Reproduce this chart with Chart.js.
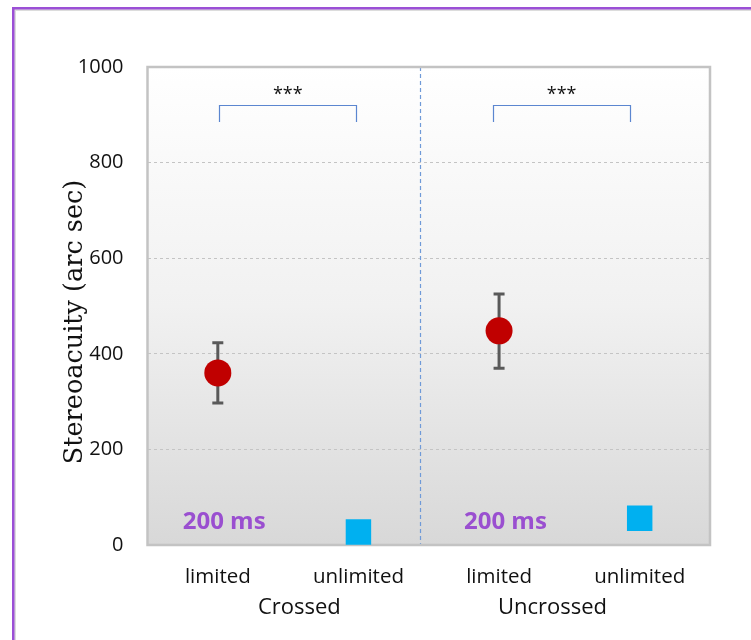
<!DOCTYPE html>
<html>
<head>
<meta charset="utf-8">
<script src="https://cdn.jsdelivr.net/npm/chart.js@4"></script>
<style>
  html, body { margin: 0; padding: 0; background: #ffffff; overflow: hidden; }
  #wrap { position: relative; width: 751px; height: 640px; }
</style>
</head>
<body>
<div id="wrap"><canvas id="c" width="751" height="640"></canvas></div>
<script>
// Conditions along the x axis
const categories = ['limited', 'unlimited', 'limited', 'unlimited'];
const groups = ['Crossed', 'Uncrossed'];

// Presentation-time limited viewing: mean with error range (arc sec)
const limitedMean = [360, 448];
const limitedUpper = [423, 525];
const limitedLower = [297, 370];

// Unlimited viewing: mean (arc sec)
const unlimitedMean = [27, 56];

// Value axis ticks
const yTicks = [0, 200, 400, 600, 800, 1000];

// Annotations
const sigLabels = ['***', '***'];
const durationLabels = ['200 ms', '200 ms'];

const SANS = '"Open Sans", "Liberation Sans", sans-serif';
const SERIF = '"DejaVu Serif", "Liberation Serif", serif';

const limitedX = [1, 3];
const unlimitedX = [2, 4];

const frame = {
  id: 'frame',
  beforeDraw(chart) {
    const { ctx, chartArea: a } = chart;
    ctx.save();
    const g = ctx.createLinearGradient(0, a.top, 0, a.bottom);
    g.addColorStop(0, '#ffffff');
    g.addColorStop(0.5, '#f1f1f1');
    g.addColorStop(1, '#d8d8d8');
    ctx.fillStyle = g;
    ctx.fillRect(a.left, a.top, a.right - a.left, a.bottom - a.top);
    ctx.restore();
  },
  beforeDatasetsDraw(chart) {
    const { ctx, chartArea: a, scales: { x, y } } = chart;
    ctx.save();
    // divider between the two disparity groups
    const dx = Math.round(x.getPixelForValue(2.44)) + 0.5;
    ctx.strokeStyle = '#6f9ad8';
    ctx.lineWidth = 1.2;
    ctx.setLineDash([4, 3]);
    ctx.beginPath();
    ctx.moveTo(dx, a.top);
    ctx.lineTo(dx, a.bottom);
    ctx.stroke();
    ctx.setLineDash([]);

    // plot frame
    ctx.strokeStyle = '#c3c3c3';
    ctx.lineWidth = 2.5;
    ctx.strokeRect(a.left, a.top, a.right - a.left, a.bottom - a.top);

    // error bars on the limited-viewing means
    ctx.strokeStyle = '#595959';
    ctx.lineWidth = 3;
    limitedMean.forEach((m, i) => {
      const px = x.getPixelForValue(limitedX[i]);
      const yt = y.getPixelForValue(limitedUpper[i]);
      const yb = y.getPixelForValue(limitedLower[i]);
      ctx.beginPath();
      ctx.moveTo(px, yt); ctx.lineTo(px, yb);
      ctx.moveTo(px - 5.5, yt); ctx.lineTo(px + 5.5, yt);
      ctx.moveTo(px - 5.5, yb); ctx.lineTo(px + 5.5, yb);
      ctx.stroke();
    });

    // significance brackets
    const brackets = [[1.01, 1.985], [2.96, 3.93]];
    ctx.strokeStyle = '#5b86d0';
    ctx.lineWidth = 1.2;
    brackets.forEach(([b0, b1], i) => {
      const x0 = Math.round(x.getPixelForValue(b0)) + 0.5;
      const x1 = Math.round(x.getPixelForValue(b1)) + 0.5;
      const yt = Math.round(y.getPixelForValue(920)) + 0.5;
      const yb = y.getPixelForValue(885);
      ctx.beginPath();
      ctx.moveTo(x0, yb); ctx.lineTo(x0, yt); ctx.lineTo(x1, yt); ctx.lineTo(x1, yb);
      ctx.stroke();
      ctx.fillStyle = '#111111';
      ctx.font = '18px ' + SANS;
      ctx.textAlign = 'center';
      ctx.textBaseline = 'middle';
      ctx.fillText(sigLabels[i], x.getPixelForValue((b0 + b1) / 2), y.getPixelForValue(941));
    });

    // presentation duration labels
    ctx.fillStyle = '#9a4fd0';
    ctx.font = 'bold 24px ' + SANS;
    ctx.textAlign = 'center';
    ctx.textBaseline = 'middle';
    durationLabels.forEach((t, i) => {
      ctx.fillText(t, x.getPixelForValue(limitedX[i] + 0.045), y.getPixelForValue(48));
    });
    ctx.restore();
  },
  afterDraw(chart) {
    const { ctx, chartArea: a, scales: { x, y } } = chart;
    ctx.save();
    // group labels under the condition labels
    ctx.fillStyle = '#111111';
    ctx.font = '22px ' + SANS;
    ctx.textAlign = 'center';
    ctx.textBaseline = 'middle';
    ctx.fillText(groups[0], x.getPixelForValue(1.58), 608);
    ctx.fillText(groups[1], x.getPixelForValue(3.38), 608);

    // value axis title
    ctx.translate(75, (a.top + a.bottom) / 2 + 16);
    ctx.rotate(-Math.PI / 2);
    ctx.font = '25.5px ' + SERIF;
    ctx.fillText('Stereoacuity (arc sec)', 0, 0);
    ctx.restore();

    // outer purple frame
    ctx.save();
    ctx.fillStyle = '#dcdcdc';
    ctx.fillRect(14, 9, 800, 2);
    ctx.fillRect(14, 9, 2, 700);
    ctx.fillStyle = '#9b4fd6';
    ctx.fillRect(12, 7, 800, 2.5);
    ctx.fillRect(12, 7, 2.5, 700);
    ctx.restore();
  }
};

new Chart(document.getElementById('c'), {
  type: 'scatter',
  data: {
    datasets: [
      {
        label: 'limited',
        data: limitedMean.map((v, i) => ({ x: limitedX[i], y: v })),
        pointStyle: 'circle',
        pointRadius: 13.5,
        pointHoverRadius: 13.5,
        backgroundColor: '#c00000',
        borderColor: '#c00000',
        borderWidth: 0
      },
      {
        label: 'unlimited',
        data: unlimitedMean.map((v, i) => ({ x: unlimitedX[i], y: v })),
        pointStyle: 'rect',
        pointRadius: 18,
        pointHoverRadius: 18,
        backgroundColor: '#00b0f0',
        borderColor: '#00b0f0',
        borderWidth: 0
      }
    ]
  },
  options: {
    responsive: false,
    animation: false,
    devicePixelRatio: 1,
    layout: { padding: { left: 0, top: 67, right: 41, bottom: 0 } },
    plugins: { legend: { display: false }, tooltip: { enabled: false } },
    scales: {
      x: {
        type: 'linear',
        min: 0.5,
        max: 4.5,
        afterBuildTicks: s => { s.ticks = categories.map((_, i) => ({ value: i + 1 })); },
        afterFit: s => { s.height = 95; },
        grid: { display: false, drawTicks: false },
        border: { display: false },
        ticks: {
          padding: 20,
          color: '#111111',
          font: { family: SANS, size: 20.5 },
          callback: v => categories[v - 1]
        }
      },
      y: {
        min: 0,
        max: 1000,
        afterBuildTicks: s => { s.ticks = yTicks.map(v => ({ value: v })); },
        afterFit: s => { s.width = 147.5; },
        grid: { color: '#c4c4c4', drawTicks: false, lineWidth: 1 },
        border: { display: false, dash: [3, 3] },
        ticks: {
          padding: 24,
          color: '#111111',
          font: { family: SANS, size: 20 },
          callback: v => String(v)
        }
      }
    }
  },
  plugins: [frame]
});
</script>
</body>
</html>
